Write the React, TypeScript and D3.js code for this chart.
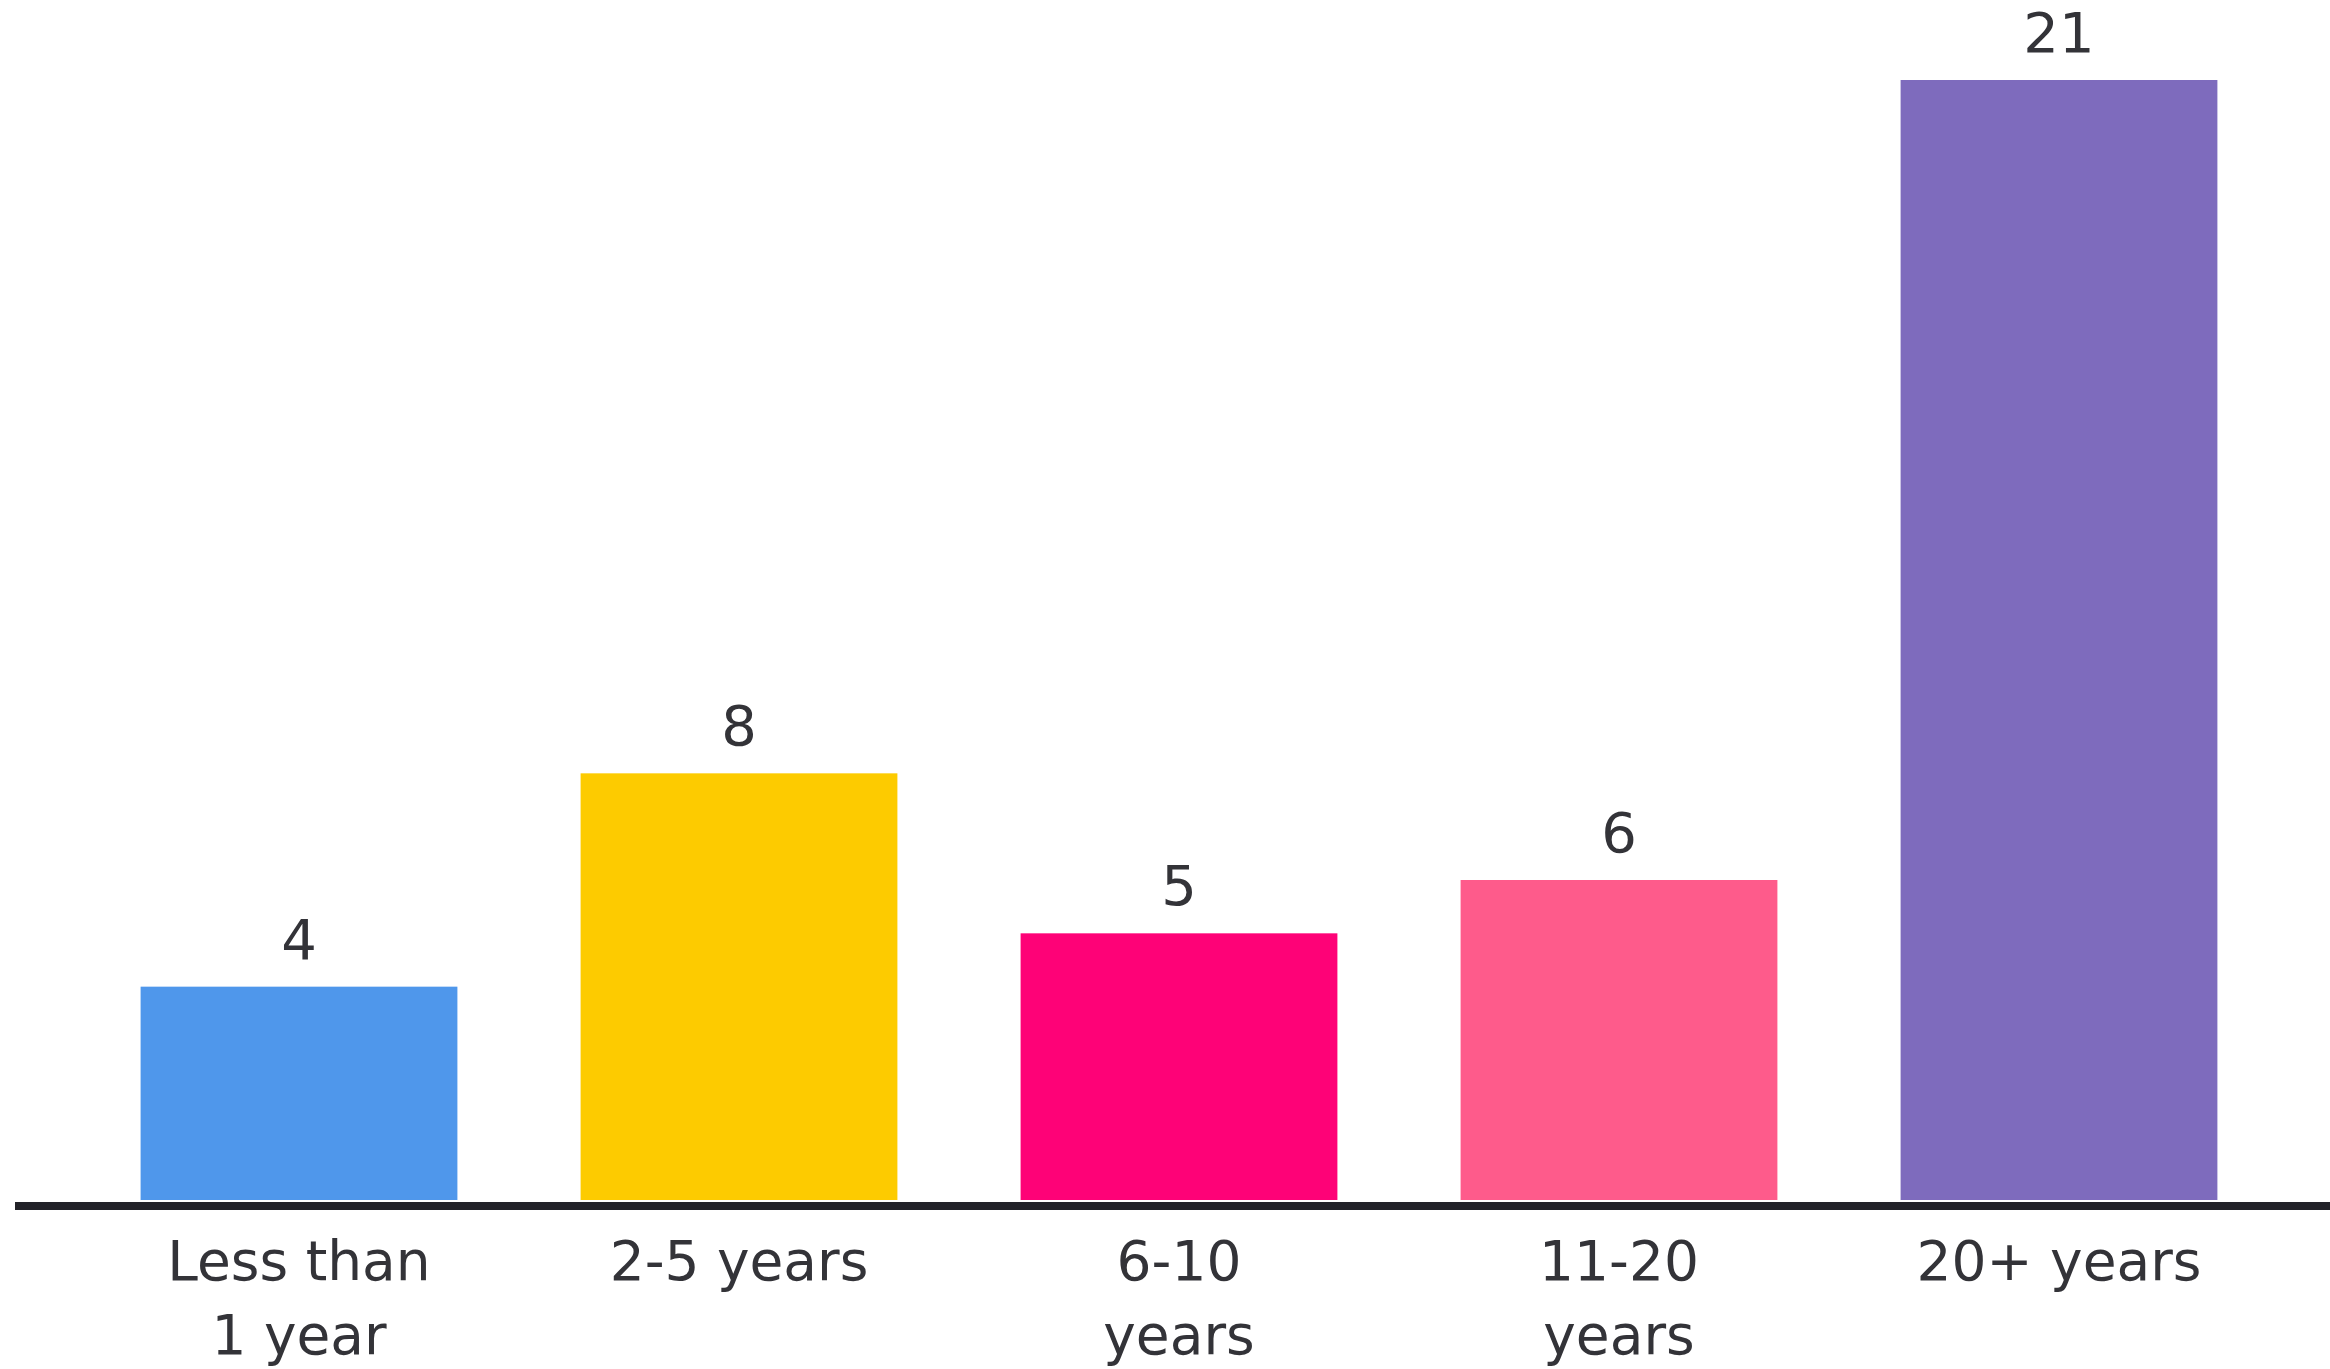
import React from "react";
import * as d3 from "d3";

const categories = ["Less than\n1 year", "2-5 years", "6-10\nyears", "11-20\nyears", "20+ years"];
const values = [4, 8, 5, 6, 21];
const colors = ["#4f97eb", "#fdcb00", "#fe0277", "#fe5b8b", "#7e6bbd"];

const W = 2330;
const H = 1369;

export default function App() {
  const x = d3
    .scaleBand<string>()
    .domain(categories)
    .range([79, 2279])
    .paddingInner(0.28)
    .paddingOuter(0.14);
  const baseY = 1200;
  const y = d3.scaleLinear().domain([0, 21]).range([baseY, 80]);
  const font = "'DejaVu Sans', sans-serif";
  return (
    <svg
      width={W}
      height={H}
      style={{ position: "absolute", left: 0, top: 0, display: "block", background: "#ffffff" }}
    >
      {categories.map((c, i) => (
        <rect
          key={c}
          x={x(c)}
          y={y(values[i])}
          width={x.bandwidth()}
          height={baseY - y(values[i])}
          fill={colors[i]}
        />
      ))}
      <line x1={15} x2={W} y1={1206} y2={1206} stroke="#222228" strokeWidth={8} />
      {categories.map((c, i) => (
        <text
          key={"v" + c}
          x={(x(c) as number) + x.bandwidth() / 2}
          y={y(values[i]) - 28}
          textAnchor="middle"
          fontFamily={font}
          fontSize={56}
          fill="#333338"
        >
          {values[i]}
        </text>
      ))}
      {categories.map((c) => (
        <text
          key={"c" + c}
          x={(x(c) as number) + x.bandwidth() / 2}
          y={1280}
          textAnchor="middle"
          fontFamily={font}
          fontSize={55}
          fill="#333338"
        >
          {c.split("\n").map((line, j) => (
            <tspan key={j} x={(x(c) as number) + x.bandwidth() / 2} dy={j === 0 ? 0 : 74}>
              {line}
            </tspan>
          ))}
        </text>
      ))}
    </svg>
  );
}
